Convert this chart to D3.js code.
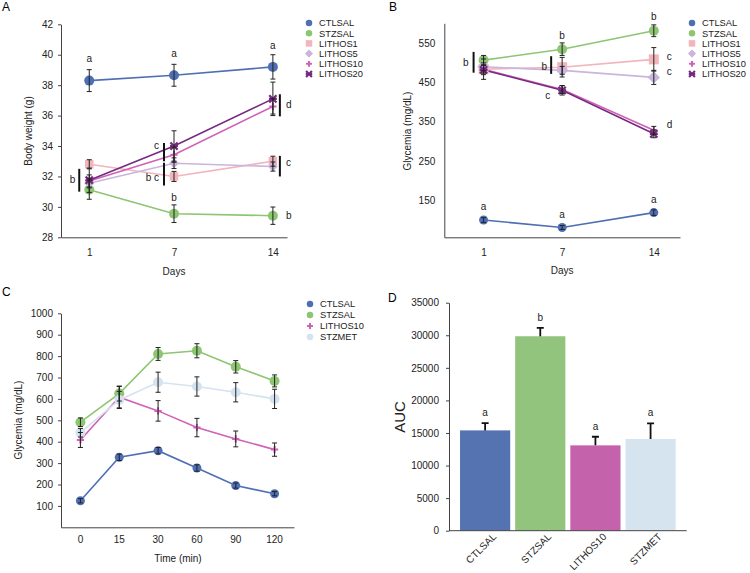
<!DOCTYPE html>
<html><head><meta charset="utf-8">
<script src="https://cdn.jsdelivr.net/npm/d3@7"></script>
<style>body{margin:0;background:#fff}svg{font-family:"Liberation Sans",Arial,sans-serif}</style>
</head><body><svg id="c" width="750" height="573"></svg>
<script>
// ---------- data ----------
const days = [1, 7, 14];
const groupsAB = ["CTLSAL", "STZSAL", "LITHOS1", "LITHOS5", "LITHOS10", "LITHOS20"];
const bodyWeightMean = [
  [38.3, 38.65, 39.2],
  [31.12, 29.55, 29.42],
  [32.8, 32.0, 33.0],
  [31.55, 32.87, 32.65],
  [31.7, 33.43, 36.6],
  [31.75, 34.0, 37.1]
];
const bodyWeightErr = [
  [0.72, 0.72, 0.8],
  [0.62, 0.58, 0.57],
  [0.3, 0.33, 0.33],
  [0.3, 0.35, 0.3],
  [0.4, 0.5, 0.5],
  [0.8, 1.0, 1.1]
];
const glycMean = [
  [99, 80, 118],
  [507, 535, 582],
  [484, 489, 509],
  [490, 481, 463],
  [484, 432, 328],
  [482, 430, 319]
];
const glycErr = [
  [6, 5, 7],
  [12, 16, 15],
  [26, 25, 30],
  [10, 10, 18],
  [10, 10, 10],
  [12, 12, 10]
];
const times = ["0", "15", "30", "60", "90", "120"];
const groupsC = ["CTLSAL", "STZSAL", "LITHOS10", "STZMET"];
const ogttMean = [
  [124, 327, 358, 277, 195, 157],
  [491, 625, 810, 825, 750, 684],
  [408, 608, 544, 466, 413, 363],
  [442, 595, 678, 658, 631, 600]
];
const ogttErr = [
  [10, 15, 15, 15, 12, 10],
  [20, 35, 30, 33, 29, 28],
  [35, 50, 48, 43, 37, 31],
  [20, 40, 47, 45, 45, 45]
];
const aucGroups = ["CTLSAL", "STZSAL", "LITHOS10", "STZMET"];
const aucMean = [15400, 29850, 13100, 14080];
const aucErr = [1100, 1300, 1320, 2400];
const aucLetters = ["a", "b", "a", "a"];
const weightTicks = [28, 30, 32, 34, 36, 38, 40, 42];
const glycTicks = [150, 250, 350, 450, 550];
const ogttTicks = [100, 200, 300, 400, 500, 600, 700, 800, 900, 1000];
const aucTicks = [0, 5000, 10000, 15000, 20000, 25000, 30000, 35000];

// ---------- styles ----------
const colors = {CTLSAL:"#4f6fb4", STZSAL:"#8dc572", LITHOS1:"#f3b4bc", LITHOS5:"#cab5dd", LITHOS10:"#cf62b6", LITHOS20:"#762a81", STZMET:"#d5e3f0"};
const barColors = {CTLSAL:"#5573b0", STZSAL:"#93c47d", LITHOS10:"#c463ab", STZMET:"#d6e4f0"};
const markers = {CTLSAL:"circle", STZSAL:"circle", LITHOS1:"square", LITHOS5:"diamond", LITHOS10:"plus", LITHOS20:"star", STZMET:"circle"};

const svg = d3.select("#c");
const FS = 10;
const fmt = d => String(d);

function drawMarker(g, type, color, size) {
  if (type === "circle") {
    g.append("circle").attr("r", size / 2).attr("fill", color);
  } else if (type === "square") {
    g.append("rect").attr("x", -size / 2).attr("y", -size / 2).attr("width", size).attr("height", size).attr("fill", color);
  } else if (type === "diamond") {
    const s = size * 0.62;
    g.append("path").attr("d", `M0,${-s}L${s},0L0,${s}L${-s},0Z`).attr("fill", color);
  } else if (type === "plus") {
    const s = size * 0.45;
    g.append("path").attr("d", `M${-s},0H${s}M0,${-s}V${s}`).attr("stroke", color).attr("stroke-width", 2);
  } else if (type === "star") {
    const s = size * 0.45;
    g.append("path").attr("d", `M${-s},${-s}L${s},${s}M${-s},${s}L${s},${-s}M${-s*1.1},0H${s*1.1}`).attr("stroke", color).attr("stroke-width", 2.2).attr("fill", "none");
  }
}

function styleAxis(g) {
  g.selectAll(".domain").attr("stroke", "#444");
  g.selectAll(".tick line").attr("stroke", "#444");
  g.selectAll("text").attr("font-size", FS).attr("fill", "#222").attr("font-family", "Liberation Sans, Arial, sans-serif");
}

function legend(x, y, step, groups, size) {
  groups.forEach((gname, i) => {
    const g = svg.append("g").attr("transform", `translate(${x},${y + i * step})`);
    drawMarker(g, markers[gname], colors[gname], size);
    svg.append("text").attr("x", x + 10).attr("y", y + i * step + 3.4).attr("font-size", 9.3).attr("fill", "#222").text(gname);
  });
}

function sigBar(x, y1, y2) {
  svg.append("line").attr("x1", x).attr("x2", x).attr("y1", y1).attr("y2", y2).attr("stroke", "#111").attr("stroke-width", 2);
}
function label(x, y, t, anchor) {
  svg.append("text").attr("x", x).attr("y", y).attr("font-size", FS).attr("fill", "#222").attr("text-anchor", anchor || "middle").text(t);
}

function drawSeries(groups, means, errs, xs, y, sizes) {
  groups.forEach((gname, i) => {
    const pts = means[i].map((v, j) => [xs[j], y(v)]);
    svg.append("path").attr("d", d3.line()(pts)).attr("fill", "none").attr("stroke", colors[gname]).attr("stroke-width", 1.6);
  });
  groups.forEach((gname, i) => {
    means[i].forEach((v, j) => {
      const g = svg.append("g").attr("transform", `translate(${xs[j]},${y(v)})`);
      drawMarker(g, markers[gname], colors[gname], sizes[gname]);
    });
  });
  groups.forEach((gname, i) => {
    means[i].forEach((v, j) => {
      const e = errs[i][j], x = xs[j];
      const t = y(v + e), b = y(v - e);
      svg.append("path").attr("d", `M${x},${t}V${b}M${x - 2.5},${t}H${x + 2.5}M${x - 2.5},${b}H${x + 2.5}`).attr("stroke", "#222").attr("stroke-width", 1).attr("fill", "none");
    });
  });
}

// ---------- Panel A ----------
{
  const x = d3.scaleLinear().domain([-1, 15]).range([61, 287]);
  const y = d3.scaleLinear().domain([28, 42]).range([237.3, 24.3]);
  svg.append("g").attr("transform", "translate(61,0)").call(d3.axisLeft(y).tickValues(weightTicks).tickFormat(fmt).tickSize(3).tickPadding(5).tickSizeOuter(0)).call(styleAxis);
  svg.append("g").attr("transform", "translate(0,237.3)").call(d3.axisBottom(x).tickValues(days).tickFormat(fmt).tickSize(0).tickPadding(12).tickSizeOuter(0)).call(styleAxis);
  const sizes = {CTLSAL:10, STZSAL:10, LITHOS1:8.5, LITHOS5:8, LITHOS10:8, LITHOS20:8};
  drawSeries(groupsAB, bodyWeightMean, bodyWeightErr, days.map(d => x(d)), y, sizes);
  svg.append("text").attr("x", 2).attr("y", 11).attr("font-size", 12).text("A");
  svg.append("text").attr("transform", `translate(32,131) rotate(-90)`).attr("text-anchor", "middle").attr("font-size", FS).attr("fill", "#222").text("Body weight (g)");
  svg.append("text").attr("x", x(7)).attr("y", 275).attr("text-anchor", "middle").attr("font-size", FS).attr("fill", "#222").text("Days");
  label(x(1), y(39.5), "a"); label(x(7), y(39.85), "a"); label(x(14), y(40.4), "a");
  label(x(7), y(30.4), "b"); label(x(14) + 13, y(29.2), "b", "start");
  sigBar(x(1) - 10, y(32.5), y(31.0)); label(x(1) - 14, y(31.6), "b", "end");
  sigBar(x(7) - 10, y(34.2), y(33.0)); label(x(7) - 15, y(33.8), "c", "end");
  sigBar(x(7) - 10, y(32.9), y(31.4)); label(x(7) - 15, y(31.7), "b c", "end");
  sigBar(x(14) + 7, y(37.4), y(35.95)); label(x(14) + 13, y(36.5), "d", "start");
  sigBar(x(14) + 7, y(33.35), y(32.0)); label(x(14) + 13, y(32.7), "c", "start");
  legend(309, 23, 10.2, groupsAB, 6.5);
}

// ---------- Panel B ----------
{
  const x = d3.scaleLinear().domain([-2, 16]).range([444.3, 680]);
  const y = d3.scaleLinear().domain([55, 601]).range([237.3, 23.3]);
  svg.append("g").attr("transform", "translate(444.3,0)").call(d3.axisLeft(y).tickValues(glycTicks).tickFormat(fmt).tickSize(0).tickPadding(9).tickSizeOuter(0)).call(styleAxis);
  svg.append("g").attr("transform", "translate(0,237.3)").call(d3.axisBottom(x).tickValues(days).tickFormat(fmt).tickSize(0).tickPadding(12).tickSizeOuter(0)).call(styleAxis);
  const sizes = {CTLSAL:9, STZSAL:10, LITHOS1:10, LITHOS5:10, LITHOS10:8, LITHOS20:8};
  drawSeries(groupsAB, glycMean, glycErr, days.map(d => x(d)), y, sizes);
  svg.append("text").attr("x", 389).attr("y", 11).attr("font-size", 12).text("B");
  svg.append("text").attr("transform", `translate(411,131) rotate(-90)`).attr("text-anchor", "middle").attr("font-size", FS).attr("fill", "#222").text("Glycemia (mg/dL)");
  svg.append("text").attr("x", x(7)).attr("y", 274).attr("text-anchor", "middle").attr("font-size", FS).attr("fill", "#222").text("Days");
  label(x(1), y(125), "a"); label(x(7), y(103), "a"); label(x(14), y(142), "a");
  label(x(7), y(562), "b"); label(x(14), y(610), "b");
  label(x(14) + 13, y(508), "c", "start"); label(x(14) + 13, y(470), "c", "start"); label(x(14) + 13, y(335), "d", "start");
  label(x(7) - 12, y(408), "c", "end");
  sigBar(x(1) - 10, y(528), y(475)); label(x(1) - 15, y(492), "b", "end");
  sigBar(x(7) - 11, y(517), y(472)); label(x(7) - 15, y(482), "b", "end");
  legend(692, 23, 10.2, groupsAB, 6.5);
}

// ---------- Panel C ----------
{
  const x = d3.scaleBand().domain(times).range([61, 294]);
  const y = d3.scaleLinear().domain([0, 1000]).range([527.3, 313.3]);
  svg.append("g").attr("transform", "translate(61,0)").call(d3.axisLeft(y).tickValues(ogttTicks).tickFormat(fmt).tickSize(3).tickPadding(5).tickSizeOuter(0)).call(styleAxis);
  svg.append("g").attr("transform", "translate(0,527.3)").call(d3.axisBottom(x).tickSize(0).tickPadding(9).tickSizeOuter(0)).call(styleAxis);
  const sizes = {CTLSAL:9, STZSAL:10, LITHOS10:8, STZMET:10};
  drawSeries(groupsC, ogttMean, ogttErr, times.map(t => x(t) + x.bandwidth() / 2), y, sizes);
  svg.append("text").attr("x", 2).attr("y", 296).attr("font-size", 12).text("C");
  svg.append("text").attr("transform", `translate(22,420) rotate(-90)`).attr("text-anchor", "middle").attr("font-size", FS).attr("fill", "#222").text("Glycemia (mg/dL)");
  svg.append("text").attr("x", 178).attr("y", 562).attr("text-anchor", "middle").attr("font-size", FS).attr("fill", "#222").text("Time (min)");
  legend(310, 304, 11, groupsC, 6.5);
}

// ---------- Panel D ----------
{
  const x = d3.scaleBand().domain(aucGroups).range([449, 686.7]).paddingInner(0.09).paddingOuter(0.2);
  const y = d3.scaleLinear().domain([0, 35000]).range([530.7, 302.7]);
  svg.append("g").attr("transform", "translate(449,0)").call(d3.axisLeft(y).tickValues(aucTicks).tickFormat(fmt).tickSize(3).tickPadding(7).tickSizeOuter(0)).call(styleAxis);
  aucGroups.forEach((gname, i) => {
    svg.append("rect").attr("x", x(gname)).attr("y", y(aucMean[i])).attr("width", x.bandwidth()).attr("height", y(0) - y(aucMean[i])).attr("fill", barColors[gname]);
    const cx = x(gname) + x.bandwidth() / 2;
    const top = y(aucMean[i] + aucErr[i]);
    svg.append("path").attr("d", `M${cx},${y(aucMean[i])}V${top}M${cx - 3.5},${top}H${cx + 3.5}`).attr("stroke", "#111").attr("stroke-width", 1.8).attr("fill", "none");
    label(cx, top - 7, aucLetters[i]);
  });
  const xa = svg.append("g").attr("transform", "translate(0,530.7)").call(d3.axisBottom(x).tickSize(0).tickSizeOuter(0)).call(styleAxis);
  xa.select(".domain").attr("d", "M449,0H686.7");
  xa.selectAll("text").attr("text-anchor", "end").attr("transform", "translate(5,0) rotate(-45)").attr("dy", "0.35em").attr("y", 6).attr("x", 0);
  svg.append("text").attr("x", 388).attr("y", 302).attr("font-size", 12).text("D");
  svg.append("text").attr("transform", `translate(405,417) rotate(-90)`).attr("text-anchor", "middle").attr("font-size", 15).attr("fill", "#222").text("AUC");
}
</script></body></html>
